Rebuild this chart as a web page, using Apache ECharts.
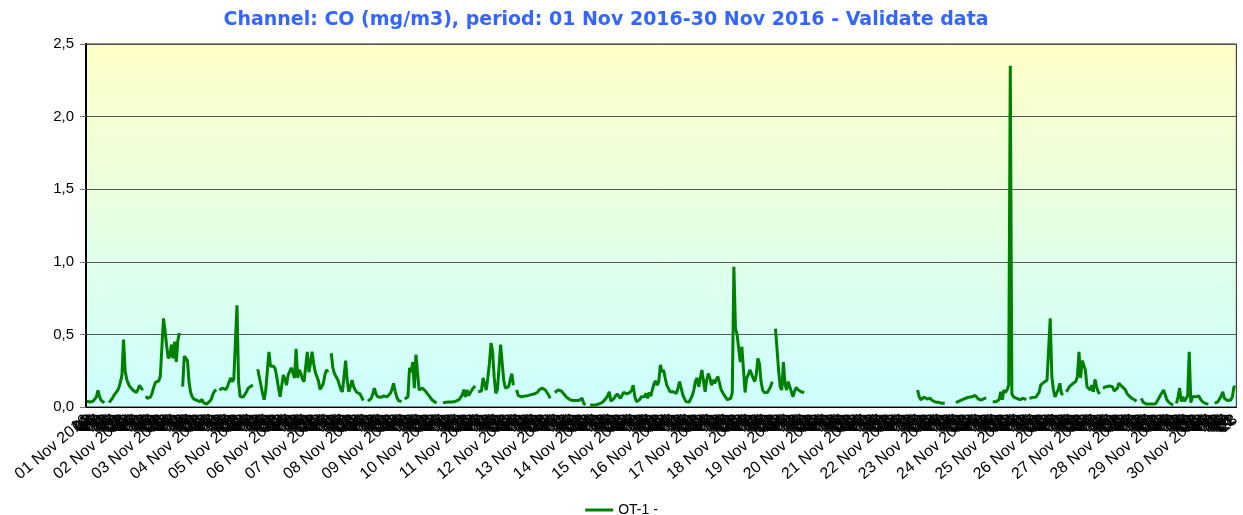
<!DOCTYPE html>
<html>
<head>
<meta charset="utf-8">
<script src="https://cdn.jsdelivr.net/npm/echarts@6/dist/echarts.min.js"></script>
<style>html,body{margin:0;padding:0;background:#fff;}#c{width:1243px;height:515px;}</style>
</head>
<body>
<div id="c"></div>
<script>
// Day labels and hour labels for the hourly category axis
const days = ['01','02','03','04','05','06','07','08','09','10','11','12','13','14','15','16','17','18','19','20','21','22','23','24','25','26','27','28','29','30'];
const hours = ['00','01','02','03','04','05','06','07','08','09','10','11','12','13','14','15','16','17','18','19','20','21','22','23'];
const yTicks = [0, 0.5, 1.0, 1.5, 2.0, 2.5];

// Hourly CO values (mg/m3), one array per day
const d01 = [0.04,0.035,0.035,0.035,0.04,0.04,0.07,0.115,0.07,0.045,0.035,0.03,null,null,0.03,0.045,0.06,0.08,0.095,0.11,0.13,0.17,0.22,0.465];
const d02 = [0.25,0.19,0.16,0.14,0.13,0.115,0.105,0.1,0.12,0.15,0.14,0.115,null,0.075,0.06,0.06,0.07,0.1,0.14,0.17,0.175,0.18,0.21,0.22];
const d03 = [0.61,0.52,0.42,0.335,0.35,0.43,0.335,0.45,0.31,0.46,0.51,null,0.14,0.35,0.345,0.32,0.17,0.1,0.07,0.055,0.05,0.045,0.04,0.037];
const d04 = [0.053,0.03,0.025,0.02,0.025,0.04,0.055,0.09,0.11,0.12,null,0.117,0.125,0.13,0.117,0.12,0.14,0.17,0.2,0.175,0.19,0.2,0.70,0.17];
const d05 = [0.07,0.07,0.07,0.08,0.105,0.13,0.14,0.145,0.15,null,null,0.26,0.255,0.15,0.094,0.05,0.117,0.25,0.38,0.28,0.275,0.28,0.26,0.2];
const d06 = [0.13,0.07,0.075,0.22,0.19,0.15,0.22,0.22,0.27,0.28,0.2,0.40,0.2,0.255,0.23,0.19,0.175,0.28,0.38,0.24,0.3,0.38,0.3,0.24];
const d07 = [0.25,0.18,0.12,0.14,0.16,0.22,0.255,0.24,null,0.37,0.27,0.23,0.21,0.19,0.195,0.12,0.105,0.11,0.32,0.18,0.105,0.14,0.186,0.14];
const d08 = [0.117,0.1,0.1,0.09,0.083,0.045,null,null,0.04,0.05,0.06,0.09,0.13,0.09,0.07,0.068,0.067,0.07,0.076,0.075,0.07,0.08,0.094,0.12];
const d09 = [0.163,0.11,0.07,0.045,0.04,0.037,null,0.055,0.06,0.07,0.27,0.24,0.31,0.13,0.36,0.36,0.117,0.11,0.13,0.12,0.11,0.094,0.08,0.07];
const d10 = [0.05,0.037,0.033,0.03,null,null,null,0.03,0.03,0.033,0.035,0.035,0.035,0.035,0.035,0.04,0.05,0.05,0.06,0.083,0.12,0.07,0.117,0.08];
const d11 = [0.07,0.117,0.13,0.145,null,0.105,0.105,0.11,0.2,0.19,0.117,0.2,0.3,0.44,0.38,0.2,0.094,0.12,0.27,0.43,0.3,0.18,0.13,0.135];
const d12 = [0.14,0.15,0.23,0.15,null,0.117,0.08,0.07,0.07,0.07,0.075,0.076,0.078,0.08,0.085,0.09,0.09,0.095,0.1,0.117,0.125,0.13,0.125,0.117];
const d13 = [0.1,0.083,0.06,null,null,0.1,0.11,0.117,0.117,0.11,0.1,0.085,0.07,0.06,0.053,0.05,0.045,0.045,0.045,0.045,0.045,0.05,0.06,0.025];
const d14 = [0.014,null,null,0.014,0.014,0.014,0.014,0.016,0.02,0.022,0.025,0.035,0.048,0.06,0.076,0.105,0.04,0.044,0.06,0.076,0.09,0.1,0.06,0.07];
const d15 = [0.1,0.095,0.09,0.09,0.1,0.115,0.15,0.07,0.037,0.04,0.05,0.07,0.06,0.07,0.094,0.06,0.1,0.075,0.12,0.16,0.18,0.15,0.175,0.29];
const d16 = [0.24,0.255,0.2,0.15,0.13,0.105,0.105,0.105,0.1,0.094,0.13,0.175,0.13,0.085,0.06,0.037,0.03,0.033,0.04,0.08,0.12,0.18,0.2,0.14];
const d17 = [0.2,0.255,0.25,0.105,0.186,0.23,0.2,0.15,0.186,0.163,0.19,0.21,0.2,0.12,0.1,0.08,0.07,0.05,0.05,0.06,0.1,0.966,0.54,0.5];
const d18 = [0.5,0.31,0.415,0.26,0.1,0.2,0.22,0.255,0.23,0.2,0.175,0.22,0.335,0.3,0.175,0.117,0.1,0.09,0.1,0.12,0.14,0.175,null,0.54];
const d19 = [0.4,0.25,0.14,0.117,0.31,0.16,0.117,0.175,0.14,0.105,0.07,0.11,0.135,0.12,0.11,0.105,0.1,0.1,null,null,null,null,null,null];
const d20 = [null,null,null,null,null,null,null,null,null,null,null,null,null,null,null,null,null,null,null,null,null,null,null,null];
const d21 = [null,null,null,null,null,null,null,null,null,null,null,null,null,null,null,null,null,null,null,null,null,null,null,null];
const d22 = [null,null,null,null,null,null,null,null,null,null,null,null,null,null,null,null,0.117,0.07,0.05,0.06,0.067,0.07,0.055,0.05];
const d23 = [0.06,0.045,0.037,0.035,0.035,0.033,0.03,0.025,0.022,0.025,null,null,null,null,null,null,0.03,0.035,0.04,0.045,0.05,0.055,0.06,0.065];
const d24 = [0.067,0.068,0.07,0.083,0.08,0.07,0.055,0.05,0.048,0.06,0.06,0.06,null,null,null,0.037,0.037,0.037,0.04,0.05,0.105,0.05,0.117,0.1];
const d25 = [0.117,0.15,2.35,0.09,0.07,0.065,0.06,0.07,0.05,0.055,0.06,0.055,0.05,null,0.06,0.06,0.065,0.067,0.068,0.07,0.1,0.15,0.16,0.17];
const d26 = [0.18,0.185,0.19,0.61,0.21,0.117,0.07,0.08,0.12,0.163,0.094,0.083,null,0.105,0.12,0.14,0.15,0.16,0.165,0.175,0.21,0.38,0.2,0.32];
const d27 = [0.31,0.255,0.14,0.13,0.117,0.15,0.105,0.19,0.14,0.105,0.09,null,0.13,0.135,0.14,0.143,0.145,0.142,0.14,0.11,0.115,0.13,0.163,0.15];
const d28 = [0.14,0.13,0.12,0.094,0.08,0.07,0.06,0.055,0.048,0.04,null,null,0.06,0.035,0.025,0.02,0.02,0.02,0.02,0.02,0.02,0.022,0.03,0.06];
const d29 = [0.083,0.1,0.117,0.083,0.05,0.035,0.025,0.018,0.014,null,0.025,0.07,0.13,0.037,0.07,0.04,0.05,0.076,0.38,0.03,0.07,0.06,0.07,0.06];
const d30 = [0.076,0.055,0.04,0.03,0.025,0.022,0.02,null,null,null,0.025,0.03,0.037,0.05,0.076,0.105,0.06,0.05,0.044,0.045,0.048,0.07,0.14,0.14];

const values = [].concat(d01,d02,d03,d04,d05,d06,d07,d08,d09,d10,d11,d12,d13,d14,d15,d16,d17,d18,d19,d20,d21,d22,d23,d24,d25,d26,d27,d28,d29,d30);
const categories = [];
days.forEach(d => hours.forEach((h, i) => categories.push(i === 0 ? d + ' Nov 2016' : h)));

const chart = echarts.init(document.getElementById('c'), null, {renderer: 'canvas'});
chart.setOption({
  animation: false,
  title: {
    text: 'Channel: CO (mg/m3), period: 01 Nov 2016-30 Nov 2016 - Validate data',
    left: 601, top: 6, textAlign: 'center',
    textStyle: {color: '#3366ff', fontFamily: 'DejaVu Sans', fontWeight: 'bold', fontSize: 19}
  },
  legend: {
    top: 498, left: 'center', icon: 'rect', itemWidth: 28, itemHeight: 3, itemGap: 8,
    textStyle: {color: '#000', fontFamily: 'Liberation Sans', fontSize: 14},
    data: ['OT-1 -']
  },
  grid: {
    left: 86, right: 3, top: 44, bottom: 108, show: true,
    borderColor: '#222', borderWidth: 1,
    backgroundColor: {type: 'linear', x: 0, y: 0, x2: 0, y2: 1,
      colorStops: [{offset: 0, color: '#ffffc8'}, {offset: 1, color: '#ccffff'}]}
  },
  xAxis: {
    type: 'category', data: categories, boundaryGap: true,
    axisLine: {lineStyle: {color: '#000', width: 1}},
    axisTick: {interval: 0, length: 4, lineStyle: {color: '#000'}},
    axisLabel: {interval: 0, rotate: 40, margin: 11, color: '#000', fontFamily: 'Liberation Sans', fontSize: 16},
    splitLine: {show: false}
  },
  yAxis: {
    type: 'value', min: yTicks[0], max: yTicks[yTicks.length - 1], interval: 0.5,
    axisLine: {show: true, lineStyle: {color: '#000', width: 2}},
    axisTick: {show: true, length: 6, lineStyle: {color: '#777'}},
    axisLabel: {color: '#000', fontFamily: 'Liberation Sans', fontSize: 15, margin: 12,
      formatter: v => v.toFixed(1).replace('.', ',')},
    splitLine: {show: true, lineStyle: {color: '#555', width: 1}}
  },
  series: [{
    name: 'OT-1 -', type: 'line', data: values, symbol: 'none', connectNulls: false,
    lineStyle: {color: '#008000', width: 3}, itemStyle: {color: '#008000'}
  }]
});
</script>
</body>
</html>
